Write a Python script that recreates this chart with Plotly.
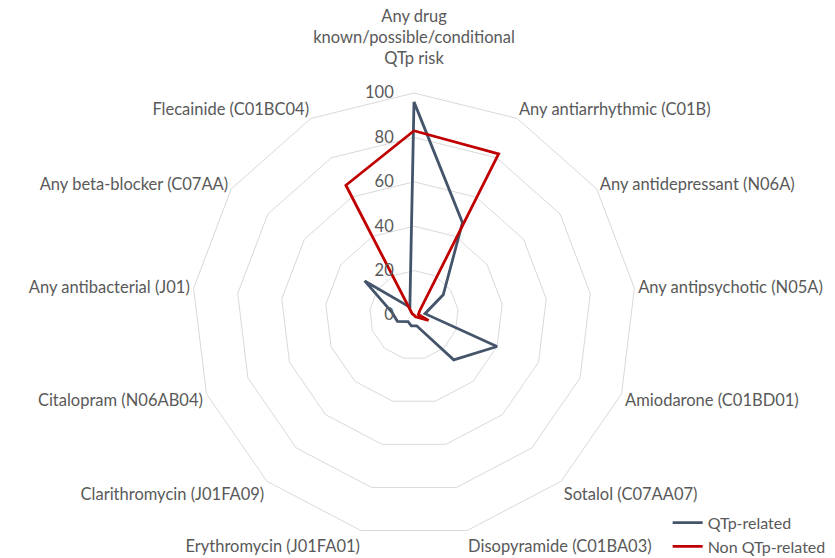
import plotly.graph_objects as go

categories = [
    "Any drug<br>known/possible/conditional<br>QTp risk<br> ",
    "Any antiarrhythmic (C01B)",
    "Any antidepressant (N06A)",
    "Any antipsychotic (N05A)",
    "Amiodarone (C01BD01)",
    "Sotalol (C07AA07)",
    "Disopyramide (C01BA03)",
    "Erythromycin (J01FA01)",
    "Clarithromycin (J01FA09)",
    "Citalopram (N06AB04)",
    "Any antibacterial (J01)",
    "Any beta-blocker (C07AA)",
    "Flecainide (C01BC04)",
]
qtp_related = [96, 47, 16, 5, 40, 27, 5, 5, 4, 8, 10, 27, 4]
non_qtp_related = [83, 82, 3, 2, 7, 1, 0, 0, 0, 0, 0, 1, 66]
radial_ticks = [0, 20, 40, 60, 80, 100]

FONT = "Lato"
TXT = "#595959"
GRID = "#d9d9d9"
FS = 16.5

def closed(v):
    return list(v) + [v[0]]

fig = go.Figure()
fig.add_trace(go.Scatterpolar(
    r=closed(qtp_related), theta=closed(categories), mode="lines",
    name="QTp-related", line=dict(color="#44546A", width=2.8),
))
fig.add_trace(go.Scatterpolar(
    r=closed(non_qtp_related), theta=closed(categories), mode="lines",
    name="Non QTp-related", line=dict(color="#C00000", width=2.8),
))

W, H = 835, 558
cx, cy, R = 406, 307, 222
fig.update_layout(
    width=W, height=H,
    margin=dict(l=0, r=0, t=0, b=0),
    paper_bgcolor="white", plot_bgcolor="white",
    font=dict(family=FONT, size=FS, color=TXT),
    polar=dict(
        domain=dict(x=[(cx - R) / W, (cx + R) / W], y=[1 - (cy + R) / H, 1 - (cy - R) / H]),
        gridshape="linear",
        bgcolor="white",
        angularaxis=dict(
            rotation=90, direction="clockwise", type="category",
            categoryorder="array", categoryarray=categories,
            showgrid=False, showline=True, linecolor=GRID, linewidth=1,
            ticks="", tickfont=dict(family=FONT, size=FS, color=TXT),
        ),
        radialaxis=dict(
            range=[0, 100], tickvals=radial_ticks, showline=False,
            showgrid=True, gridcolor=GRID, gridwidth=1,
            ticks="outside", ticklen=14, tickcolor="rgba(0,0,0,0)",
            angle=90, tickangle=90, side="counterclockwise",
            tickfont=dict(family=FONT, size=FS, color=TXT),
        ),
    ),
    legend=dict(
        x=0.790, xanchor="left", y=0.004, yanchor="bottom",
        font=dict(family=FONT, size=16, color=TXT),
        bgcolor="rgba(255,255,255,0)", itemwidth=30, tracegroupgap=0,
    ),
)

fig.write_html("out.html")
